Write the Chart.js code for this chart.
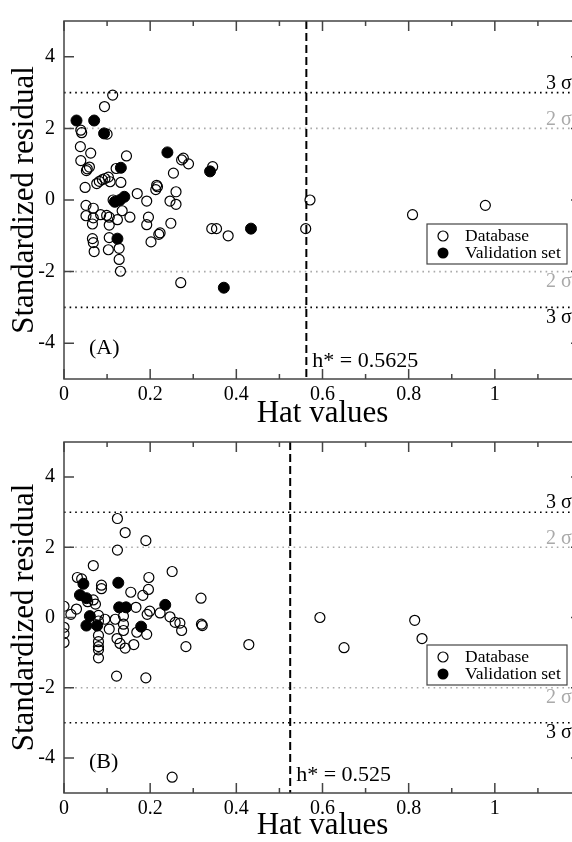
<!DOCTYPE html>
<html>
<head>
<meta charset="utf-8">
<script src="https://cdn.jsdelivr.net/npm/chart.js@4.4.1/dist/chart.umd.min.js"></script>
<style>
html, body { margin: 0; padding: 0; background: #fff; }
#wrap { position: relative; width: 572px; height: 842px; overflow: hidden; }
canvas { position: absolute; left: 0; }
#chartA { top: 0; }
#chartB { top: 421px; }
</style>
</head>
<body>
<div id="wrap">
  <canvas id="chartA" width="600" height="430"></canvas>
  <canvas id="chartB" width="600" height="421"></canvas>
</div>
<script>
// panel (A) - database
const hatA_db = [0.113, 0.094, 0.039, 0.041, 0.100, 0.038, 0.062, 0.145, 0.273, 0.277, 0.289, 0.039, 0.054, 0.059,
  0.052, 0.121, 0.345, 0.254, 0.049, 0.076, 0.082, 0.089, 0.095, 0.103, 0.107, 0.132, 0.215, 0.217, 0.213, 0.170,
  0.260, 0.192, 0.246, 0.051, 0.068, 0.051, 0.068, 0.066, 0.085, 0.099, 0.105, 0.105, 0.124, 0.105, 0.066, 0.068,
  0.070, 0.103, 0.128, 0.128, 0.131, 0.153, 0.196, 0.192, 0.202, 0.220, 0.223, 0.248, 0.260, 0.343, 0.354, 0.381,
  0.271, 0.561, 0.571, 0.809, 0.978, 0.114, 0.135];
const resA_db = [2.93, 2.61, 1.95, 1.88, 1.84, 1.49, 1.31, 1.23, 1.12, 1.17, 1.01, 1.10, 0.87, 0.92,
  0.82, 0.88, 0.93, 0.75, 0.35, 0.46, 0.52, 0.57, 0.60, 0.64, 0.51, 0.49, 0.41, 0.37, 0.29, 0.18,
  0.23, -0.03, -0.03, -0.15, -0.23, -0.44, -0.50, -0.67, -0.41, -0.43, -0.48, -0.70, -0.55, -1.05, -1.08, -1.19,
  -1.44, -1.39, -1.35, -1.66, -1.99, -0.48, -0.48, -0.69, -1.17, -0.96, -0.92, -0.65, -0.12, -0.80, -0.80, -1.00,
  -2.31, -0.80, 0.00, -0.41, -0.15, 0.00, -0.30];
// panel (A) - validation set
const hatA_val = [0.029, 0.070, 0.093, 0.240, 0.132, 0.339, 0.118, 0.130, 0.140, 0.124, 0.434, 0.371];
const resA_val = [2.22, 2.22, 1.86, 1.33, 0.90, 0.80, -0.05, 0.00, 0.09, -1.08, -0.80, -2.45];

// panel (B) - database
const hatB_db = [0.124, 0.142, 0.190, 0.124, 0.068, 0.251, 0.031, 0.041, 0.197, 0.087, 0.087, 0.196, 0.155, 0.183,
  0.318, 0.167, 0.000, 0.029, 0.016, 0.199, 0.193, 0.223, 0.246, 0.000, 0.000, 0.000, 0.080, 0.080, 0.080, 0.080,
  0.080, 0.080, 0.080, 0.105, 0.119, 0.123, 0.130, 0.138, 0.138, 0.138, 0.142, 0.162, 0.169, 0.192, 0.258, 0.269,
  0.273, 0.283, 0.319, 0.321, 0.429, 0.122, 0.190, 0.251, 0.068, 0.073, 0.594, 0.650, 0.814, 0.831, 0.055, 0.095];
const resB_db = [2.82, 2.42, 2.19, 1.92, 1.48, 1.31, 1.14, 1.10, 1.14, 0.92, 0.82, 0.80, 0.72, 0.63,
  0.55, 0.29, 0.32, 0.24, 0.09, 0.18, 0.09, 0.13, 0.02, -0.28, -0.46, -0.71, 0.06, -0.10, -0.51, -0.69,
  -0.83, -0.92, -1.15, -0.33, -0.05, -0.60, -0.74, 0.04, -0.19, -0.37, -0.87, -0.77, -0.42, -0.48, -0.14, -0.16,
  -0.37, -0.83, -0.19, -0.23, -0.77, -1.67, -1.72, -4.55, 0.50, 0.38, 0.00, -0.86, -0.08, -0.60, 0.45, -0.05];
// panel (B) - validation set
const hatB_val = [0.045, 0.037, 0.052, 0.060, 0.052, 0.077, 0.126, 0.128, 0.144, 0.179, 0.235];
const resB_val = [0.96, 0.64, 0.55, 0.04, -0.23, -0.23, 0.99, 0.29, 0.29, -0.26, 0.36];

// warning leverage h* and sigma limits
const hStarA = 0.5625;
const hStarB = 0.525;
const sigma3 = [3, -3];
const sigma2 = [2, -2];
const xTickLabels = ['0', '0.2', '0.4', '0.6', '0.8', '1'];
const yTickLabels = ['-4', '-2', '0', '2', '4'];

const SERIF = "'Liberation Serif', 'Times New Roman', serif";

function toPoints(xs, ys) {
    return xs.map((v, i) => ({x: v, y: ys[i]}));
}

function overlayPlugin(hStar, tag) {
    return {
        id: 'overlay',
        beforeDatasetsDraw(chart) {
            const {ctx, chartArea: a, scales: {x, y}} = chart;
            ctx.save();
            ctx.lineWidth = 1.6;
            ctx.setLineDash([1.6, 4]);
            // 2 sigma (grey) and 3 sigma (black) dotted lines
            sigma2.forEach(v => {
                const py = y.getPixelForValue(v);
                ctx.strokeStyle = '#aaaaaa';
                ctx.beginPath(); ctx.moveTo(a.left, py); ctx.lineTo(a.right, py); ctx.stroke();
            });
            sigma3.forEach(v => {
                const py = y.getPixelForValue(v);
                ctx.strokeStyle = '#000';
                ctx.beginPath(); ctx.moveTo(a.left, py); ctx.lineTo(a.right, py); ctx.stroke();
            });
            // h* dashed line
            const hx = x.getPixelForValue(hStar);
            ctx.setLineDash([8, 4]);
            ctx.lineWidth = 2;
            ctx.strokeStyle = '#000';
            ctx.beginPath(); ctx.moveTo(hx, a.top); ctx.lineTo(hx, a.bottom); ctx.stroke();
            ctx.restore();
        },
        afterDatasetsDraw(chart) {
            const {ctx, chartArea: a, scales: {x, y}} = chart;
            ctx.save();
            // frame
            ctx.strokeStyle = '#444';
            ctx.lineWidth = 1.5;
            ctx.strokeRect(a.left, a.top, a.right - a.left, a.bottom - a.top);
            // inward ticks
            ctx.beginPath();
            for (let i = 0; i <= 12; i++) {
                const px = x.getPixelForValue(i / 10);
                const len = i % 2 === 0 ? 10 : 5;
                ctx.moveTo(px, a.bottom); ctx.lineTo(px, a.bottom - len);
                ctx.moveTo(px, a.top); ctx.lineTo(px, a.top + len);
            }
            for (let v = -4; v <= 4; v += 2) {
                const py = y.getPixelForValue(v);
                ctx.moveTo(a.left, py); ctx.lineTo(a.left + 10, py);
                ctx.moveTo(a.right, py); ctx.lineTo(a.right - 10, py);
            }
            ctx.stroke();

            // sigma labels
            ctx.font = '20px ' + SERIF;
            ctx.textBaseline = 'middle';
            ctx.textAlign = 'left';
            const lx = a.left + 482;
            ctx.fillStyle = '#000';
            ctx.fillText('3 \u03c3', lx, y.getPixelForValue(3) - 9);
            ctx.fillText('3 \u03c3', lx, y.getPixelForValue(-3) + 10);
            ctx.fillStyle = '#aaaaaa';
            ctx.fillText('2 \u03c3', lx, y.getPixelForValue(2) - 9);
            ctx.fillText('2 \u03c3', lx, y.getPixelForValue(-2) + 10);

            // h* label and panel tag
            ctx.fillStyle = '#000';
            ctx.font = '22px ' + SERIF;
            ctx.fillText('h* = ' + hStar, x.getPixelForValue(hStar) + 6, a.bottom - 18);
            ctx.fillText(tag, a.left + 25, a.bottom - 31);

            // legend box
            const bx = a.left + 363, by = a.top + 203, bw = 140, bh = 40;
            ctx.fillStyle = '#fff';
            ctx.fillRect(bx, by, bw, bh);
            ctx.strokeStyle = '#444';
            ctx.lineWidth = 1.2;
            ctx.strokeRect(bx, by, bw, bh);
            ctx.beginPath();
            ctx.arc(bx + 16, by + 12, 5, 0, Math.PI * 2);
            ctx.strokeStyle = '#000';
            ctx.stroke();
            ctx.beginPath();
            ctx.arc(bx + 16, by + 29, 5.5, 0, Math.PI * 2);
            ctx.fillStyle = '#000';
            ctx.fill();
            ctx.font = '17.5px ' + SERIF;
            ctx.fillText('Database', bx + 38, by + 12);
            ctx.fillText('Validation set', bx + 38, by + 29);
            ctx.restore();
        }
    };
}

function makePanel(id, dbX, dbY, valX, valY, hStar, tag, plotTop, plotBottom) {
    const canvas = document.getElementById(id);
    new Chart(canvas.getContext('2d'), {
        type: 'scatter',
        data: {
            datasets: [
                {
                    label: 'Validation set',
                    data: toPoints(valX, valY),
                    backgroundColor: '#000',
                    borderColor: '#000',
                    borderWidth: 1,
                    pointRadius: 5.5,
                    order: 0
                },
                {
                    label: 'Database',
                    data: toPoints(dbX, dbY),
                    backgroundColor: 'rgba(0,0,0,0)',
                    borderColor: '#000',
                    borderWidth: 1.2,
                    pointRadius: 5,
                    order: 1
                }
            ]
        },
        options: {
            responsive: false,
            animation: false,
            devicePixelRatio: 1,
            layout: { padding: { top: plotTop, right: 19, left: 0, bottom: 0 } },
            scales: {
                x: {
                    type: 'linear',
                    min: 0,
                    max: 1.2,
                    afterFit: s => { s.height = canvas.height - plotBottom; },
                    grid: { display: false, drawTicks: false },
                    border: { display: false },
                    ticks: {
                        stepSize: 0.2,
                        padding: 4,
                        color: '#000',
                        font: { family: SERIF, size: 20 },
                        maxRotation: 0,
                        callback: v => {
                            const i = Math.round(v / 0.2);
                            return Math.abs(v - i * 0.2) < 1e-6 && i < xTickLabels.length ? xTickLabels[i] : '';
                        }
                    },
                    title: {
                        display: true,
                        text: 'Hat values',
                        color: '#000',
                        font: { family: SERIF, size: 31 },
                        padding: { top: 0, bottom: -2 }
                    }
                },
                y: {
                    type: 'linear',
                    min: -5,
                    max: 5,
                    afterFit: s => { s.width = 64; },
                    grid: { display: false, drawTicks: false },
                    border: { display: false },
                    ticks: {
                        stepSize: 1,
                        autoSkip: false,
                        padding: 9,
                        color: '#000',
                        font: { family: SERIF, size: 20 },
                        callback: v => {
                            const i = yTickLabels.indexOf(String(Math.round(v)));
                            return i >= 0 && Math.abs(v - Math.round(v)) < 1e-6 ? yTickLabels[i] : '';
                        }
                    },
                    title: {
                        display: true,
                        text: 'Standardized residual',
                        color: '#000',
                        font: { family: SERIF, size: 31 },
                        padding: { top: 6, bottom: 0 }
                    }
                }
            },
            plugins: {
                legend: { display: false },
                tooltip: { enabled: false }
            }
        },
        plugins: [overlayPlugin(hStar, tag)]
    });
}

makePanel('chartA', hatA_db, resA_db, hatA_val, resA_val, hStarA, '(A)', 15, 379);
makePanel('chartB', hatB_db, resB_db, hatB_val, resB_val, hStarB, '(B)', 9, 372);
</script>
</body>
</html>
